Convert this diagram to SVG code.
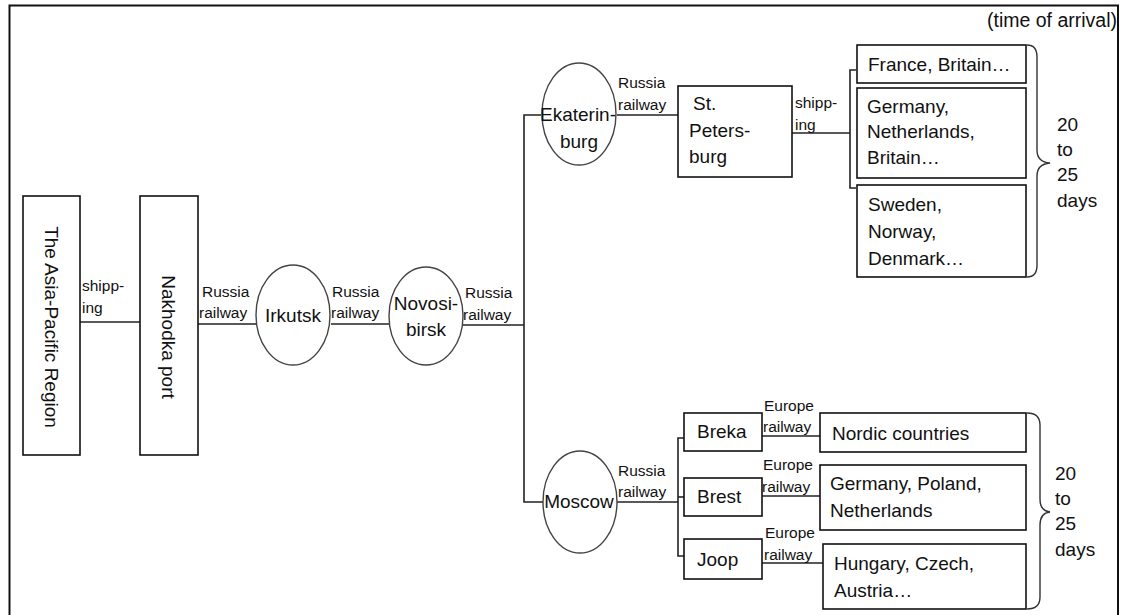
<svg xmlns="http://www.w3.org/2000/svg" width="1121" height="615" viewBox="0 0 1121 615">
<style>
  .box{fill:#fff;stroke:#111;stroke-width:1.6}
  .ell{fill:#fff;stroke:#444;stroke-width:1.4}
  .ln{fill:none;stroke:#222;stroke-width:1.6}
  .br{fill:none;stroke:#333;stroke-width:1.4}
  text{font-family:"Liberation Sans",Arial,sans-serif;fill:#111}
  .t{font-size:19px}
  .s{font-size:15.5px}
</style>
<rect x="0" y="0" width="1121" height="615" fill="#fff"/>
<rect x="9.5" y="5.5" width="1108.5" height="640" fill="none" stroke="#111" stroke-width="2"/>
<text x="1117" y="27" text-anchor="end" font-size="19.5">(time of arrival)</text>

<g id="connectors">
  <path class="ln" d="M80 322 H140"/>
  <path class="ln" d="M198 324 H256"/>
  <path class="ln" d="M331 324 H389"/>
  <path class="ln" d="M463 325 H524"/>
  <path class="ln" d="M541 115 H524 V502 H543"/>
  <path class="ln" d="M617 115 H678"/>
  <path class="ln" d="M789 133 H850"/>
  <path class="ln" d="M856 70 H850 V188 H856"/>
  <path class="ln" d="M617 502 H678"/>
  <path class="ln" d="M684 438 H678 V556 H684"/>
  <path class="ln" d="M678 497 H684"/>
  <path class="ln" d="M762 436 H820"/>
  <path class="ln" d="M762 496 H820"/>
  <path class="ln" d="M762 563 H823"/>
  <path class="br" d="M1027 45 Q1037 45 1037 57 V150 Q1037 162 1050 163 Q1037 164 1037 176 V265 Q1037 277 1027 277"/>
  <path class="br" d="M1027 413 Q1040 413 1040 425 V499 Q1040 511 1050 512 Q1040 513 1040 525 V597 Q1040 609 1027 609"/>
  <text class="s" x="82" y="291">shipp-</text>
  <text class="s" x="82" y="313">ing</text>
  <text class="s" x="202" y="297">Russia</text>
  <text class="s" x="199" y="318">railway</text>
  <text class="s" x="332" y="297">Russia</text>
  <text class="s" x="331" y="318">railway</text>
  <text class="s" x="465" y="298">Russia</text>
  <text class="s" x="463" y="320">railway</text>
  <text class="s" x="618" y="88">Russia</text>
  <text class="s" x="618" y="110">railway</text>
  <text class="s" x="795" y="108">shipp-</text>
  <text class="s" x="795" y="130">ing</text>
  <text class="s" x="618" y="476">Russia</text>
  <text class="s" x="618" y="497">railway</text>
  <text class="s" x="764" y="411">Europe</text>
  <text class="s" x="763" y="432">railway</text>
  <text class="s" x="763" y="470">Europe</text>
  <text class="s" x="762" y="492">railway</text>
  <text class="s" x="765" y="538">Europe</text>
  <text class="s" x="764" y="560">railway</text>
  <text class="t" x="1057" y="131">20</text>
  <text class="t" x="1057" y="156">to</text>
  <text class="t" x="1057" y="181">25</text>
  <text class="t" x="1057" y="207">days</text>
  <text class="t" x="1055" y="480">20</text>
  <text class="t" x="1055" y="505">to</text>
  <text class="t" x="1055" y="530">25</text>
  <text class="t" x="1055" y="556">days</text>
</g>

<g id="asia">
  <rect class="box" x="23" y="196" width="57" height="259"/>
  <text class="t" transform="translate(45 327) rotate(90)" text-anchor="middle">The Asia-Pacific Region</text>
</g>
<g id="nakhodka">
  <rect class="box" x="140" y="196" width="58" height="259"/>
  <text class="t" transform="translate(162 337) rotate(90)" text-anchor="middle">Nakhodka port</text>
</g>
<g id="irkutsk">
  <ellipse class="ell" cx="293" cy="315" rx="37" ry="50"/>
  <text class="t" x="293" y="322" text-anchor="middle">Irkutsk</text>
</g>
<g id="novosibirsk">
  <ellipse class="ell" cx="426" cy="316" rx="37" ry="49"/>
  <text class="t" x="426" y="310" text-anchor="middle">Novosi-</text>
  <text class="t" x="426" y="336" text-anchor="middle">birsk</text>
</g>
<g id="ekaterinburg">
  <ellipse class="ell" cx="579" cy="114" rx="37" ry="51"/>
  <text class="t" x="578" y="121" text-anchor="middle">Ekaterin-</text>
  <text class="t" x="579" y="148" text-anchor="middle">burg</text>
</g>
<g id="stpetersburg">
  <rect class="box" x="678" y="86" width="114" height="91"/>
  <text class="t" x="693" y="110">St.</text>
  <text class="t" x="689" y="137">Peters-</text>
  <text class="t" x="689" y="163">burg</text>
</g>
<g id="france">
  <rect class="box" x="857" y="45" width="169" height="38"/>
  <text class="t" x="868" y="71">France, Britain…</text>
</g>
<g id="germany1">
  <rect class="box" x="857" y="88" width="169" height="90"/>
  <text class="t" x="867" y="113">Germany,</text>
  <text class="t" x="867" y="138">Netherlands,</text>
  <text class="t" x="867" y="164">Britain…</text>
</g>
<g id="sweden">
  <rect class="box" x="857" y="185" width="169" height="92"/>
  <text class="t" x="868" y="211">Sweden,</text>
  <text class="t" x="868" y="238">Norway,</text>
  <text class="t" x="868" y="265">Denmark…</text>
</g>
<g id="moscow">
  <ellipse class="ell" cx="580" cy="502" rx="37" ry="51"/>
  <text class="t" x="579" y="508" text-anchor="middle">Moscow</text>
</g>
<g id="breka">
  <rect class="box" x="684" y="413" width="78" height="38"/>
  <text class="t" x="697" y="438">Breka</text>
</g>
<g id="brest">
  <rect class="box" x="684" y="478" width="78" height="38"/>
  <text class="t" x="697" y="503">Brest</text>
</g>
<g id="joop">
  <rect class="box" x="684" y="539" width="78" height="40"/>
  <text class="t" x="697" y="566">Joop</text>
</g>
<g id="nordic">
  <rect class="box" x="820" y="413" width="206" height="39"/>
  <text class="t" x="832" y="440">Nordic countries</text>
</g>
<g id="germany2">
  <rect class="box" x="820" y="465" width="206" height="65"/>
  <text class="t" x="830" y="490">Germany, Poland,</text>
  <text class="t" x="830" y="517">Netherlands</text>
</g>
<g id="hungary">
  <rect class="box" x="823" y="544" width="203" height="65"/>
  <text class="t" x="834" y="570">Hungary, Czech,</text>
  <text class="t" x="834" y="597">Austria…</text>
</g>
</svg>
